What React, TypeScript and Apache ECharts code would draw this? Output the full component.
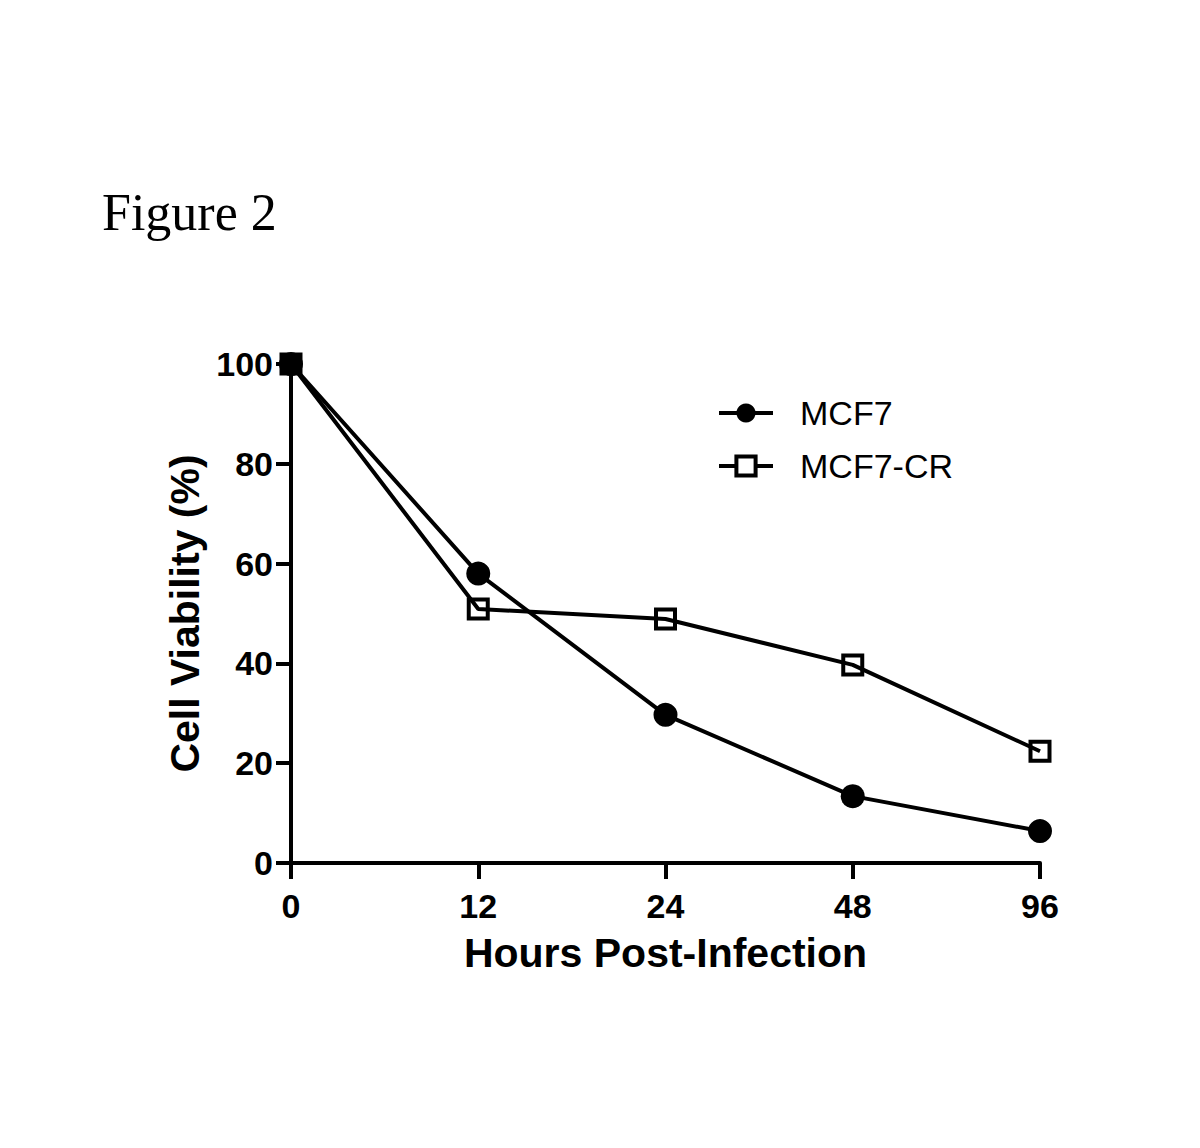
import React, { useEffect, useRef } from "react";
import * as echarts from "echarts";

const hours = ["0", "12", "24", "48", "96"];
const mcf7 = [100, 58, 29.7, 13.4, 6.4];
const mcf7cr = [100, 50.9, 48.9, 39.7, 22.4];
const yTicks = [0, 20, 40, 60, 80, 100];

export default function App() {
  const ref = useRef<HTMLDivElement>(null);
  useEffect(() => {
    const chart = echarts.init(ref.current!, null, { renderer: "svg" });
    const font = "Liberation Sans, Arial, sans-serif";
    chart.setOption({
      animation: false,
      backgroundColor: "#fff",
      graphic: [
        {
          type: "text",
          left: 102,
          top: 186,
          style: { text: "Figure 2", font: "52px 'Liberation Serif', 'Times New Roman', serif", fill: "#000" },
        },
      ],
      legend: {
        orient: "vertical",
        left: 712,
        top: 391,
        itemGap: 19,
        itemWidth: 54,
        itemHeight: 24,
        lineStyle: { width: 4, color: "#000" },
        textStyle: { fontFamily: font, fontSize: 34, color: "#000", padding: [0, 0, 0, 22] },
        data: [
          { name: "MCF7" },
          { name: "MCF7-CR", itemStyle: { color: "#fff", borderColor: "#000", borderWidth: 4 } },
        ],
      },
      grid: { left: 291, right: 160, top: 364, bottom: 285, containLabel: false },
      xAxis: {
        type: "category",
        data: hours,
        boundaryGap: false,
        name: "Hours Post-Infection",
        nameLocation: "middle",
        nameGap: 69,
        nameTextStyle: { fontFamily: font, fontSize: 41, fontWeight: "bold", color: "#000" },
        axisLine: { lineStyle: { color: "#000", width: 4 } },
        axisTick: { alignWithLabel: true, length: 16, lineStyle: { color: "#000", width: 4 } },
        axisLabel: { fontFamily: font, fontSize: 34, fontWeight: "bold", color: "#000", margin: 26 },
        splitLine: { show: false },
      },
      yAxis: {
        type: "value",
        min: yTicks[0],
        max: yTicks[yTicks.length - 1],
        interval: 20,
        name: "Cell Viability (%)",
        nameLocation: "middle",
        nameGap: 85,
        nameTextStyle: { fontFamily: font, fontSize: 41, fontWeight: "bold", color: "#000" },
        axisLine: { show: true, lineStyle: { color: "#000", width: 4 } },
        axisTick: { show: true, length: 15, lineStyle: { color: "#000", width: 4 } },
        axisLabel: { fontFamily: font, fontSize: 34, fontWeight: "bold", color: "#000", margin: 18 },
        splitLine: { show: false },
      },
      series: [
        {
          name: "MCF7",
          type: "line",
          data: mcf7,
          symbol: "circle",
          symbolSize: 24,
          lineStyle: { color: "#000", width: 4 },
          itemStyle: { color: "#000", borderWidth: 0 },
          z: 2,
        },
        {
          name: "MCF7-CR",
          type: "line",
          data: mcf7cr,
          symbol: "rect",
          symbolSize: 19,
          lineStyle: { color: "#000", width: 4 },
          itemStyle: { color: "rgba(255,255,255,0)", borderColor: "#000", borderWidth: 4 },
          z: 3,
        },
      ],
    });
    return () => chart.dispose();
  }, []);
  return <div ref={ref} style={{ position: "absolute", left: 0, top: 0, width: 1200, height: 1148 }} />;
}
